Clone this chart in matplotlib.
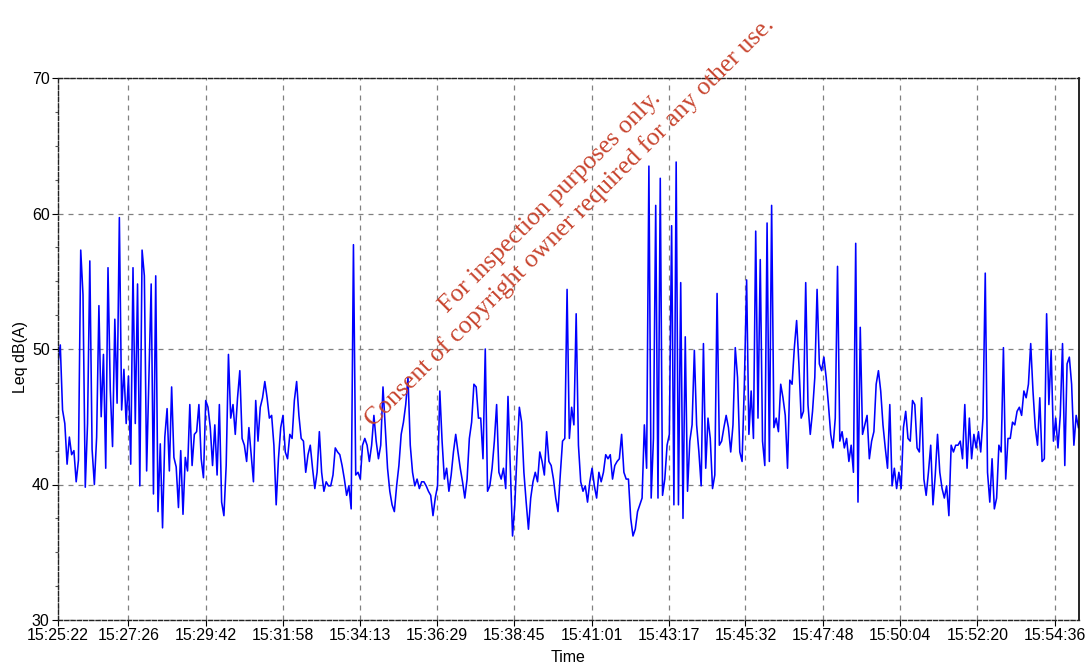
import matplotlib
matplotlib.use("Agg")
import matplotlib.pyplot as plt
import numpy as np
from matplotlib.ticker import MultipleLocator

# one Leq reading every 4 s, starting 15:25:22
step_s = 4
leq_db = [
    49.0, 50.3, 45.5, 44.5, 41.5, 43.5, 42.2, 42.5, 40.2, 41.8,
    57.3, 54.0, 39.8, 44.5, 56.5, 42.6, 40.0, 43.5, 53.2, 45.0,
    49.6, 41.2, 56.0, 47.0, 42.8, 52.2, 46.0, 59.7, 45.5, 48.5,
    44.5, 48.0, 41.5, 56.0, 44.5, 54.8, 39.9, 57.3, 55.4, 41.0,
    48.0, 54.8, 39.3, 55.4, 38.0, 43.0, 36.8, 43.5, 45.6, 41.0,
    47.2, 42.0, 41.3, 38.3, 42.5, 37.8, 42.0,
    41.0, 45.9, 41.4, 43.7, 43.9, 45.9, 41.9, 40.5, 46.2, 45.7,
    44.2, 41.4, 44.4, 40.7, 45.9, 38.7, 37.7, 41.4, 49.6, 44.9,
    45.9, 43.7, 46.4, 48.4, 43.4, 42.9, 41.7, 44.2, 42.2, 40.2,
    46.2, 43.2, 45.7, 46.4, 47.6, 46.4, 44.9, 45.1, 42.9, 38.5,
    41.9, 44.2, 45.1, 42.4, 41.9, 43.7, 43.4, 46.2, 47.6, 45.1,
    43.4, 43.2, 40.9, 42.2, 42.9, 41.2,
    39.7, 40.9, 43.9, 40.9, 39.5, 40.2, 39.9, 39.9, 40.7, 42.7,
    42.4, 42.2, 41.4, 40.4, 39.2, 39.9, 38.2, 57.7, 40.7, 40.9,
    40.4, 42.9, 43.4, 42.9, 41.7, 42.9, 45.1, 43.2, 41.9, 42.9,
    47.2, 44.2, 41.2, 39.5, 38.5, 38.0, 39.9, 41.4, 43.7, 44.6,
    45.9, 47.9, 42.9, 40.9, 39.9, 40.4, 39.7, 40.2, 40.2, 39.9,
    39.5, 39.2, 37.7, 39.0, 39.9, 46.9,
    43.2, 40.4, 41.2, 39.5, 40.7, 42.4, 43.7, 42.4, 41.2, 40.2,
    39.0, 40.4, 43.4, 44.6, 47.4, 47.2, 44.9, 44.9, 41.9, 50.0,
    39.5, 39.9, 41.2, 43.2, 45.9, 40.9, 40.4, 41.2, 39.7, 46.5,
    41.4, 36.2, 38.5, 42.4, 45.7, 44.6, 40.9, 38.7, 36.7, 39.0,
    40.2, 40.9, 40.2, 42.4, 41.7, 40.7, 43.9, 41.7, 41.4, 40.4,
    39.0, 38.0, 40.7, 43.2, 43.4, 54.4,
    43.4, 45.7, 44.4, 52.6, 42.9, 40.2, 39.5, 39.9, 38.7, 40.2,
    41.2, 39.9, 39.0, 40.9, 40.2, 40.9, 42.2, 41.9, 42.2, 40.4,
    41.4, 41.7, 41.9, 43.7, 40.9, 40.4, 40.4, 37.5, 36.2, 36.7,
    38.0, 38.5, 39.0, 44.4, 41.2, 63.5, 39.0, 43.4, 60.6, 39.0,
    62.6, 39.2, 40.4, 42.9, 43.7, 59.1, 38.5, 63.8, 38.5, 54.9,
    37.5, 50.9, 39.5, 43.2, 44.4, 49.9, 44.4,
    42.4, 39.9, 50.4, 41.2, 44.9, 43.4, 39.7, 40.7, 54.1, 42.9,
    43.2, 44.2, 45.1, 44.2, 42.4, 44.4, 50.1, 47.9, 42.4, 41.7,
    47.4, 55.1, 43.7, 46.9, 43.4, 58.7, 44.9, 56.6, 43.2, 41.4,
    59.3, 41.7, 60.6, 44.2, 44.9, 43.9, 47.4, 46.4, 45.1, 41.2,
    47.7, 47.4, 50.1, 52.1, 48.9, 44.9, 45.4, 54.9, 45.9, 43.7,
    45.4, 47.9, 54.4, 48.9, 48.4, 49.4, 47.9,
    45.9, 43.7, 42.7, 44.9, 56.1, 43.2, 43.9, 42.7, 43.4, 41.7,
    42.9, 40.9, 57.8, 38.7, 51.6, 43.7, 44.4, 45.1, 41.9, 43.2,
    43.9, 47.4, 48.4, 46.9, 44.4, 42.7, 41.2, 45.9, 39.9, 41.2,
    39.7, 40.9, 39.7, 44.2, 45.4, 43.4, 43.2, 46.2, 45.9, 42.7,
    42.4, 46.4, 40.4, 39.2, 40.9, 42.9, 38.5, 40.7, 43.7, 40.9,
    39.7, 39.0, 39.9, 37.7, 42.9, 42.4,
    42.9, 42.9, 43.2, 41.9, 45.9, 41.2, 44.9, 41.9, 43.7, 42.7,
    43.9, 42.4, 44.9, 55.6, 40.9, 38.7, 41.9, 38.2, 39.0, 42.9,
    42.4, 50.1, 40.4, 43.4, 43.4, 44.6, 44.4, 45.4, 45.7, 45.1,
    46.9, 46.4, 47.4, 50.4, 46.9, 44.2, 42.9, 46.4, 41.7, 41.9,
    52.6, 45.9, 49.9, 43.2, 44.9, 42.7, 45.1, 50.4, 41.4, 48.9,
    49.4, 47.4, 42.9, 45.1, 44.2,
]

tick_seconds = [0, 124, 260, 396, 531, 667, 803, 939, 1075, 1210, 1346, 1482, 1618, 1754]
tick_labels = ["15:25:22", "15:27:26", "15:29:42", "15:31:58", "15:34:13", "15:36:29", "15:38:45",
               "15:41:01", "15:43:17", "15:45:32", "15:47:48", "15:50:04", "15:52:20", "15:54:36"]
y_ticks = [30, 40, 50, 60, 70]
watermark_lines = ["For inspection purposes only.",
                   "Consent of copyright owner required for any other use."]

plt.rcParams["font.family"] = ["Liberation Sans", "DejaVu Sans"]

fig = plt.figure(figsize=(10.88, 6.66), dpi=100)
ax = fig.add_axes([58 / 1088, 1 - 620 / 666, 1021 / 1088, 542 / 666])

t = np.arange(len(leq_db)) * step_s
ax.plot(t, leq_db, color="#0000ff", lw=1.15)

ax.set_xlim(0, 1797)
ax.set_ylim(30, 70)
ax.set_xticks(tick_seconds, tick_labels)
ax.set_yticks(y_ticks)
ax.yaxis.set_minor_locator(MultipleLocator(2.5))
ax.grid(True, which="major", color="#808080", linestyle=(0, (4, 4)), lw=0.9)
ax.tick_params(which="major", direction="out", length=4, width=0.8, color="black",
               labelsize=11.5, pad=2)
ax.tick_params(which="minor", direction="out", length=2.5, width=0.8, color="#555555")

for side in ["left", "bottom", "top"]:
    ax.spines[side].set_linestyle((0, (3, 1.5)))
    ax.spines[side].set_color("#222222")
    ax.spines[side].set_linewidth(1.0)
ax.spines["right"].set_color("black")
ax.spines["right"].set_linewidth(1.2)

fig.text(20 / 1088, 1 - 357 / 666, "Leq dB(A)", rotation=90, ha="center", va="center", size=11.5)
fig.text(568 / 1088, 1 - 657 / 666, "Time", ha="center", va="center", size=11.5)

# diagonal watermark, one text per line so each box stays tight
for (cx, cy), line in zip([(550, 202), (570, 222)], watermark_lines):
    fig.text(cx / 1088, 1 - cy / 666, line, rotation=45, rotation_mode="anchor",
             ha="center", va="center", family="Liberation Serif", size=18.5, color="#c8452f")

fig.savefig("out.png", dpi=100)
